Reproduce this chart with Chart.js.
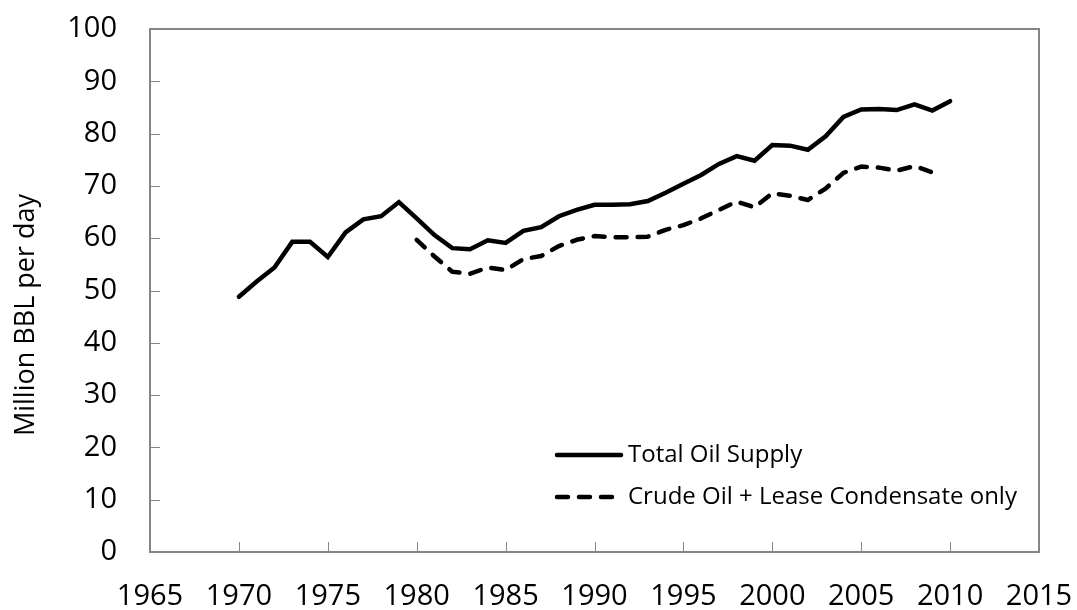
<!DOCTYPE html>
<html><head><meta charset="utf-8">
<script src="https://cdn.jsdelivr.net/npm/chart.js@4/dist/chart.umd.min.js"></script>
<style>html,body{margin:0;padding:0;background:#fff}#wrap{width:1077px;height:610px}</style>
</head><body><div id="wrap"><canvas id="c" width="1077" height="610"></canvas></div>
<script>
const years = [1970,1971,1972,1973,1974,1975,1976,1977,1978,1979,1980,1981,1982,1983,1984,1985,1986,1987,1988,1989,1990,1991,1992,1993,1994,1995,1996,1997,1998,1999,2000,2001,2002,2003,2004,2005,2006,2007,2008,2009,2010];
const totalSupply = [48.8,51.7,54.4,59.3,59.3,56.4,61.1,63.6,64.2,66.9,63.8,60.6,58.1,57.9,59.6,59.1,61.4,62.1,64.2,65.4,66.4,66.4,66.5,67.1,68.7,70.4,72.1,74.2,75.7,74.8,77.8,77.7,76.9,79.5,83.2,84.6,84.7,84.5,85.6,84.4,86.2];
const crudeYears = [1980,1981,1982,1983,1984,1985,1986,1987,1988,1989,1990,1991,1992,1993,1994,1995,1996,1997,1998,1999,2000,2001,2002,2003,2004,2005,2006,2007,2008,2009];
const crudeOil = [59.7,56.5,53.6,53.2,54.4,53.9,56.0,56.6,58.5,59.7,60.4,60.2,60.2,60.3,61.6,62.5,63.8,65.4,67.0,65.9,68.6,68.1,67.3,69.5,72.5,73.7,73.5,72.9,73.8,72.6];
const seriesNames = ["Total Oil Supply","Crude Oil + Lease Condensate only"];
const yTitle = "Million BBL per day";
const xTicks = [1965,1970,1975,1980,1985,1990,1995,2000,2005,2010,2015];
const yTicks = [0,10,20,30,40,50,60,70,80,90,100];

const FONT = "'Open Sans', 'Liberation Sans', sans-serif";
const AXIS_COLOR = '#868686';

const innerTicks = {
  id:'innerTicks',
  afterDatasetsDraw(chart){
    const ctx = chart.ctx, a = chart.chartArea;
    const xs = chart.scales.x, ys = chart.scales.y;
    ctx.save();
    ctx.strokeStyle = AXIS_COLOR; ctx.lineWidth = 1;
    ctx.beginPath();
    xTicks.forEach(v=>{ if(v===xTicks[0]) return; const px=Math.round(xs.getPixelForValue(v))+0.5; ctx.moveTo(px,a.bottom); ctx.lineTo(px,a.bottom-10); });
    yTicks.forEach(v=>{ if(v===yTicks[0]) return; const py=Math.round(ys.getPixelForValue(v))+0.5; ctx.moveTo(a.left,py); ctx.lineTo(a.left+10,py); });
    ctx.stroke();
    ctx.restore();
  }
};

const yTitlePlugin = {
  id:'yTitlePlugin',
  afterDraw(chart){
    const ctx = chart.ctx;
    ctx.save();
    ctx.translate(26, 315);
    ctx.rotate(-Math.PI/2);
    ctx.fillStyle = '#000'; ctx.font = "27px " + FONT; ctx.textAlign = 'center'; ctx.textBaseline = 'middle';
    ctx.fillText(yTitle, 0, 0);
    ctx.restore();
  }
};

const innerLegend = {
  id:'innerLegend',
  afterDraw(chart){
    const ctx = chart.ctx;
    const items = chart.data.datasets;
    const x0 = 557, x1 = 621, tx = 628, ys0 = [455, 497];
    ctx.save();
    items.forEach((ds,i)=>{
      const y = ys0[i];
      ctx.strokeStyle = ds.borderColor; ctx.lineWidth = ds.borderWidth; ctx.lineCap='round';
      ctx.setLineDash(ds.borderDash || []);
      ctx.beginPath(); ctx.moveTo(x0,y); ctx.lineTo(i===0?x1:x1-6,y); ctx.stroke();
      ctx.setLineDash([]);
      ctx.fillStyle = '#000'; ctx.font = "24px " + FONT; ctx.textBaseline='middle'; ctx.textAlign='left';
      ctx.fillText(ds.label, tx, y);
    });
    ctx.restore();
  }
};

new Chart(document.getElementById('c'), {
  type:'line',
  data:{
    datasets:[
      {label:seriesNames[0], data:years.map((y,i)=>({x:y,y:totalSupply[i]})), borderColor:'#000', borderWidth:4.5, pointRadius:0, tension:0, borderCapStyle:'round', borderJoinStyle:'miter', fill:false},
      {label:seriesNames[1], data:crudeYears.map((y,i)=>({x:y,y:crudeOil[i]})), borderColor:'#000', borderWidth:4.5, borderDash:[11,11], pointRadius:0, tension:0, borderCapStyle:'round', borderJoinStyle:'round', fill:false}
    ]
  },
  options:{
    responsive:false, animation:false,
    layout:{padding:{top:29,right:38,left:0,bottom:0}},
    plugins:{legend:{display:false}, tooltip:{enabled:false}},
    scales:{
      x:{type:'linear', min:1965, max:2015,
        afterBuildTicks(s){ s.ticks = xTicks.map(v=>({value:v})); },
        afterFit(s){ s.height = 58; s.paddingLeft = 0; s.paddingRight = 0; },
        border:{display:true,color:AXIS_COLOR,width:2},
        grid:{display:false, drawTicks:false},
        ticks:{color:'#000', font:{family:FONT,size:29}, padding:27, maxRotation:0, autoSkip:false, callback:v=>String(v)}
      },
      y:{type:'linear', min:0, max:100,
        afterBuildTicks(s){ s.ticks = yTicks.map(v=>({value:v})); },
        afterFit(s){ s.width = 150; s.paddingTop = 0; s.paddingBottom = 0; },
        border:{display:true,color:AXIS_COLOR,width:2},
        grid:{display:false, drawTicks:false},
        ticks:{color:'#000', font:{family:FONT,size:29}, padding:33},
        title:{display:false}
      }
    }
  },
  plugins:[innerTicks, innerLegend, yTitlePlugin, {
    id:'frame',
    afterDraw(chart){
      const a = chart.chartArea, ctx = chart.ctx;
      ctx.save(); ctx.strokeStyle = AXIS_COLOR; ctx.lineWidth = 2;
      ctx.beginPath(); ctx.moveTo(a.left,a.top); ctx.lineTo(a.right,a.top); ctx.lineTo(a.right,a.bottom); ctx.stroke();
      ctx.restore();
    }
  }]
});
</script></body></html>
